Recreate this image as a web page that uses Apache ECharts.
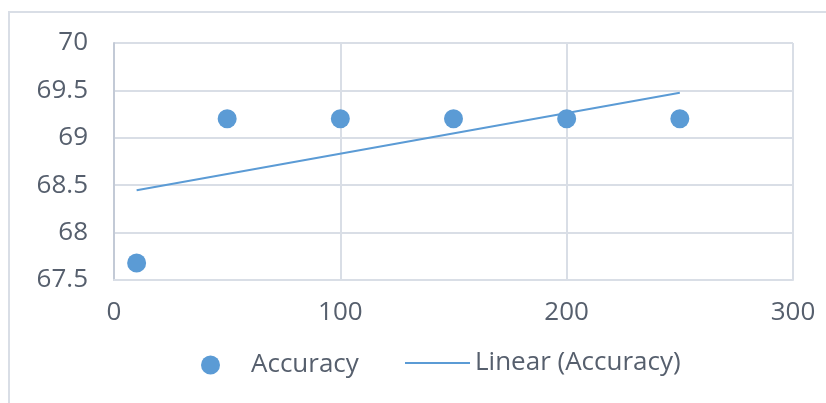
<!DOCTYPE html>
<html>
<head>
<meta charset="utf-8">
<script src="https://cdn.jsdelivr.net/npm/echarts@6/dist/echarts.min.js"></script>
<style>
  html, body { margin: 0; padding: 0; background: #fff; }
  #chart { width: 826px; height: 403px; }
</style>
</head>
<body>
<div id="chart"></div>
<script>
// Accuracy measured at each setting
const xValues = [10, 50, 100, 150, 200, 250];
const accuracy = [67.68, 69.2, 69.2, 69.2, 69.2, 69.2];
const xTicks = [0, 100, 200, 300];
const yTicks = [67.5, 68, 68.5, 69, 69.5, 70];

// Least-squares trendline over the measured range
function linearFit(xs, ys) {
  const n = xs.length;
  const mx = xs.reduce((a, b) => a + b, 0) / n;
  const my = ys.reduce((a, b) => a + b, 0) / n;
  let sxy = 0, sxx = 0;
  for (let i = 0; i < n; i++) {
    sxy += (xs[i] - mx) * (ys[i] - my);
    sxx += (xs[i] - mx) * (xs[i] - mx);
  }
  const slope = sxy / sxx;
  return x => my + slope * (x - mx);
}
const fit = linearFit(xValues, accuracy);
const xMin = Math.min(...xValues), xMax = Math.max(...xValues);
const trend = [[xMin, fit(xMin)], [xMax, fit(xMax)]];

const BLUE = '#5B9BD5';
const GRID = '#d9dee6';
const TEXT = '#565f6d';
const FONT = '"Open Sans", "Noto Sans", sans-serif';
const FS = 26;

const chart = echarts.init(document.getElementById('chart'));
chart.setOption({
  animation: false,
  backgroundColor: '#ffffff',
  graphic: [{
    type: 'rect',
    shape: { x: 9, y: 12, width: 900, height: 500 },
    style: { fill: 'none', stroke: GRID, lineWidth: 2 },
    silent: true
  }],
  grid: { left: 114, right: 33, top: 43, bottom: 123 },
  xAxis: {
    type: 'value',
    min: xTicks[0], max: xTicks[xTicks.length - 1], interval: 100,
    axisLine: { show: true, lineStyle: { color: GRID, width: 2 } },
    axisTick: { show: false },
    splitLine: { show: true, lineStyle: { color: GRID, width: 2 } },
    axisLabel: { color: TEXT, fontFamily: FONT, fontSize: FS, margin: 20 }
  },
  yAxis: {
    type: 'value',
    min: yTicks[0], max: yTicks[yTicks.length - 1], interval: 0.5,
    axisLine: { show: true, lineStyle: { color: '#c3cad6', width: 2 } },
    axisTick: { show: false },
    splitLine: { show: true, lineStyle: { color: GRID, width: 2 } },
    axisLabel: { color: TEXT, fontFamily: FONT, fontSize: FS, margin: 26 }
  },
  legend: [{
    data: [{ name: 'Accuracy', icon: 'circle' }],
    left: 196, top: 347,
    itemWidth: 19, itemHeight: 19,
    textStyle: { color: TEXT, fontFamily: FONT, fontSize: FS, padding: [0, 0, 0, 26] }
  }, {
    data: [{ name: 'Linear (Accuracy)', icon: 'rect', itemStyle: { color: BLUE } }],
    left: 400, top: 345,
    itemWidth: 65, itemHeight: 2,
    textStyle: { color: TEXT, fontFamily: FONT, fontSize: FS, padding: [0, 0, 0, 0] }
  }],
  series: [{
    name: 'Accuracy',
    type: 'scatter',
    symbolSize: 19,
    itemStyle: { color: BLUE, opacity: 1 },
    data: xValues.map((x, i) => [x, accuracy[i]]),
    z: 3
  }, {
    name: 'Linear (Accuracy)',
    type: 'line',
    symbol: 'none',
    lineStyle: { color: BLUE, width: 2 },
    itemStyle: { color: BLUE },
    data: trend,
    z: 2
  }]
});
</script>
</body>
</html>
